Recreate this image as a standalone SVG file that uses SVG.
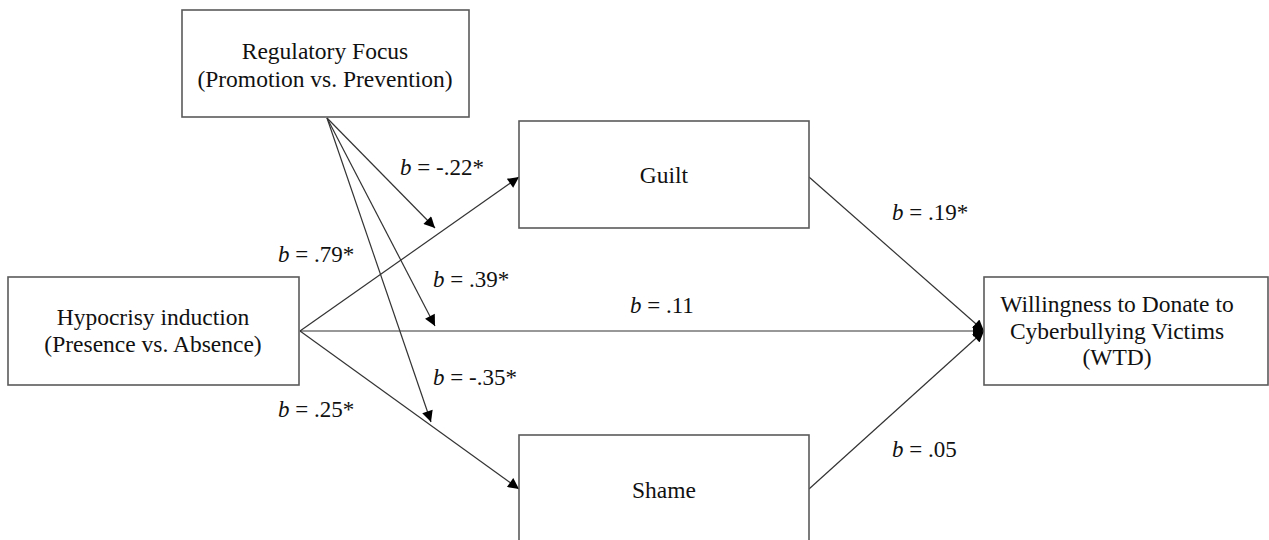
<svg xmlns="http://www.w3.org/2000/svg" width="1269" height="540" viewBox="0 0 1269 540">
<style>
.box{fill:#fff;stroke:#5a5a5a;stroke-width:1.6}
.t{font-family:"Liberation Serif","Times New Roman",serif;font-size:23.5px;fill:#111;text-anchor:middle}
.l{font-family:"Liberation Serif","Times New Roman",serif;font-size:23px;fill:#111}
.e{stroke:#333;stroke-width:1.2;fill:none}
</style>
<defs>
<marker id="ah" viewBox="0 0 10 10" refX="10" refY="5" markerWidth="14" markerHeight="11" markerUnits="userSpaceOnUse" orient="auto">
<path d="M0,0 L10,5 L0,10 z" fill="#000"/>
</marker>
</defs>
<rect width="1269" height="540" fill="#fff"/>
<g id="connectors">
<line class="e" x1="327" y1="118" x2="435" y2="228" marker-end="url(#ah)"/>
<line class="e" x1="327" y1="118" x2="435" y2="326" marker-end="url(#ah)"/>
<line class="e" x1="327" y1="118" x2="431" y2="422" marker-end="url(#ah)"/>
<line class="e" x1="300" y1="331" x2="519" y2="177" marker-end="url(#ah)"/>
<line class="e" x1="300" y1="331" x2="519" y2="489" marker-end="url(#ah)"/>
<line class="e" x1="300" y1="331" x2="984" y2="331" marker-end="url(#ah)"/>
<line class="e" x1="809" y1="177" x2="984" y2="331" marker-end="url(#ah)"/>
<line class="e" x1="809" y1="489" x2="984" y2="331" marker-end="url(#ah)"/>
</g>
<g id="regulatory">
<rect class="box" x="182" y="10" width="287" height="107"/>
<text class="t" x="325" y="59">Regulatory Focus</text>
<text class="t" x="325" y="87">(Promotion vs. Prevention)</text>
</g>
<g id="hypocrisy">
<rect class="box" x="8" y="277" width="291" height="108"/>
<text class="t" x="153" y="325">Hypocrisy induction</text>
<text class="t" x="153" y="352">(Presence vs. Absence)</text>
</g>
<g id="guilt">
<rect class="box" x="519" y="121" width="290" height="107"/>
<text class="t" x="664" y="183">Guilt</text>
</g>
<g id="shame">
<rect class="box" x="519" y="435" width="290" height="120"/>
<text class="t" x="664" y="498">Shame</text>
</g>
<g id="wtd">
<rect class="box" x="984" y="277" width="284" height="108"/>
<text class="t" x="1117" y="312">Willingness to Donate to</text>
<text class="t" x="1117" y="339">Cyberbullying Victims</text>
<text class="t" x="1117" y="365">(WTD)</text>
</g>
<g id="labels">
<text class="l" x="400" y="175"><tspan font-style="italic">b</tspan> = -.22*</text>
<text class="l" x="278" y="262"><tspan font-style="italic">b</tspan> = .79*</text>
<text class="l" x="433" y="287"><tspan font-style="italic">b</tspan> = .39*</text>
<text class="l" x="630" y="313"><tspan font-style="italic">b</tspan> = .11</text>
<text class="l" x="433" y="385"><tspan font-style="italic">b</tspan> = -.35*</text>
<text class="l" x="278" y="417"><tspan font-style="italic">b</tspan> = .25*</text>
<text class="l" x="892" y="220"><tspan font-style="italic">b</tspan> = .19*</text>
<text class="l" x="892" y="457"><tspan font-style="italic">b</tspan> = .05</text>
</g>
</svg>
